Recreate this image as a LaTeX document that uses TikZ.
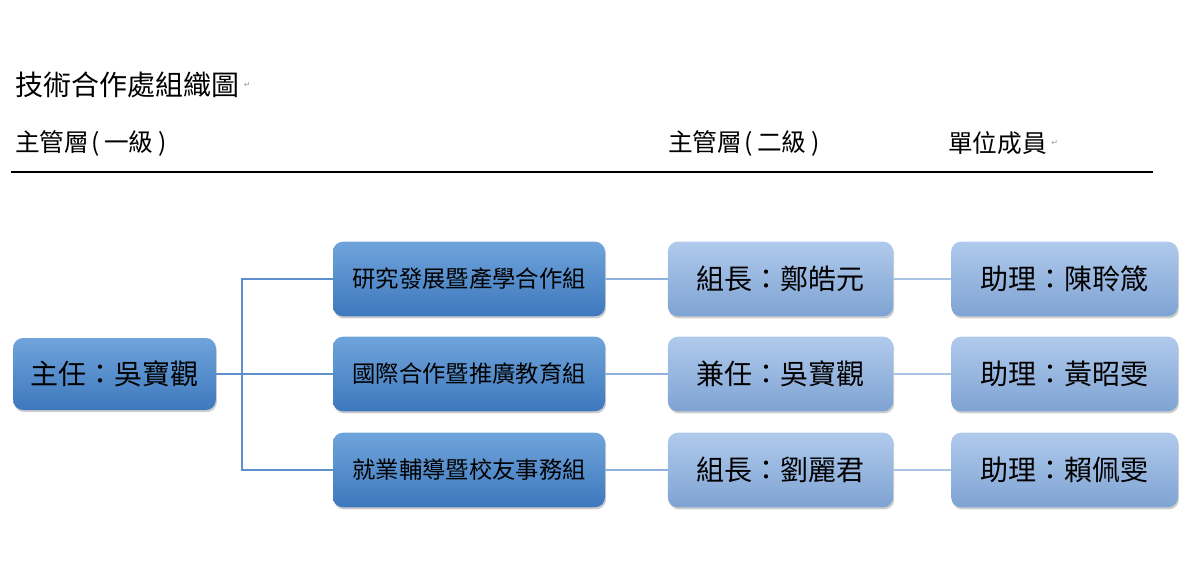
\documentclass[tikz,border=0pt]{standalone}
\usepackage{fontspec}
\setmainfont{Noto Sans CJK TC}
\newfontfamily\symfont{DejaVu Sans}
\usepackage{xcolor}
\definecolor{orgdarktop}{HTML}{6FA4DB}
\definecolor{orgdarkbot}{HTML}{3E78BD}
\definecolor{orglighttop}{HTML}{B0CAEC}
\definecolor{orglightbot}{HTML}{7EA3D3}
\definecolor{orgline}{HTML}{5C8FCB}
\definecolor{orglinemid}{HTML}{8FB1DD}
\definecolor{orglinelight}{HTML}{A9C3E5}
\usepackage{tikz}
\usetikzlibrary{shadows}
\tikzset{
  unitbox/.style={rounded corners=7.5pt, minimum height=56pt, inner sep=0pt,
    drop shadow={shadow xshift=0.8pt, shadow yshift=-1.6pt, opacity=0.35, fill=black!55}},
  darkbox/.style={unitbox, top color=orgdarktop, bottom color=orgdarkbot},
  lightbox/.style={unitbox, top color=orglighttop, bottom color=orglightbot},
  headtext/.style={anchor=west, inner sep=0pt, font=\fontsize{18.5}{20}\selectfont},
  retmark/.style={inner sep=0pt, text=black!40, font=\symfont\fontsize{6}{7}\selectfont}
}

\begin{document}
\begin{tikzpicture}[x=0.75pt, y=-0.75pt]
    \useasboundingbox (0,0) rectangle (1204,563);
    % Title and column heads
    \node[anchor=west, inner sep=0pt, font=\fontsize{21}{23}\selectfont] (title) at (15,85) {技術合作處組織圖};
    \node[retmark, anchor=west] (titleret) at ([xshift=3pt]title.east) {↵};
    \node[headtext] (headone) at (15,143) {主管層\hspace{1.5pt}(\hspace{3.5pt}一級\hspace{3.5pt})};
    \node[headtext] (headtwo) at (668,143) {主管層\hspace{1.5pt}(\hspace{3.5pt}二級\hspace{3.5pt})};
    \node[headtext] (headmem) at (948,143) {單位成員};
    \node[retmark, anchor=west] (memret) at ([xshift=3pt]headmem.east) {↵};
    \coordinate (ruleleft) at (11,172);
    \coordinate (ruleright) at (1153,172);
    \draw[line width=0.8pt] (ruleleft) -- (ruleright);
    % Level 1: director
    \node[darkbox, minimum width=152pt, minimum height=54pt, font=\fontsize{21}{23}\selectfont]
      (chief) at (114.5,374) {主任：吳寶觀};
    % Level 2: divisions
    \node[darkbox, minimum width=204pt, font=\fontsize{17.5}{19}\selectfont]
      (rd) at (469,279) {研究發展暨產學合作組};
    \node[darkbox, minimum width=204pt, font=\fontsize{17.5}{19}\selectfont]
      (intl) at (469,374) {國際合作暨推廣教育組};
    \node[darkbox, minimum width=204pt, font=\fontsize{17.5}{19}\selectfont]
      (career) at (469,470) {就業輔導暨校友事務組};
    % Level 2 heads
    \node[lightbox, minimum width=169pt, font=\fontsize{21}{23}\selectfont]
      (rdhead) at (780.5,279) {組長：鄭皓元};
    \node[lightbox, minimum width=169pt, font=\fontsize{21}{23}\selectfont]
      (intlhead) at (780.5,374) {兼任：吳寶觀};
    \node[lightbox, minimum width=169pt, font=\fontsize{21}{23}\selectfont]
      (careerhead) at (780.5,470) {組長：劉麗君};
    % Members
    \node[lightbox, minimum width=170pt, font=\fontsize{21}{23}\selectfont]
      (rdaide) at (1064.5,279) {助理：陳聆箴};
    \node[lightbox, minimum width=170pt, font=\fontsize{21}{23}\selectfont]
      (intlaide) at (1064.5,374) {助理：黃昭雯};
    \node[lightbox, minimum width=170pt, font=\fontsize{21}{23}\selectfont]
      (careeraide) at (1064.5,470) {助理：賴佩雯};
    % Connectors
    \coordinate (trunk) at (242,374);
    \draw[orgline, line width=1.4pt] (chief.east) -- (intl.west);
    \draw[orgline, line width=1.4pt] (trunk) |- (rd.west);
    \draw[orgline, line width=1.4pt] (trunk) |- (career.west);
    \draw[orglinemid, line width=1.1pt] (rd.east) -- (rdhead.west);
    \draw[orglinemid, line width=1.1pt] (intl.east) -- (intlhead.west);
    \draw[orglinemid, line width=1.1pt] (career.east) -- (careerhead.west);
    \draw[orglinelight, line width=1.1pt] (rdhead.east) -- (rdaide.west);
    \draw[orglinelight, line width=1.1pt] (intlhead.east) -- (intlaide.west);
    \draw[orglinelight, line width=1.1pt] (careerhead.east) -- (careeraide.west);
  \end{tikzpicture}
\end{document}
